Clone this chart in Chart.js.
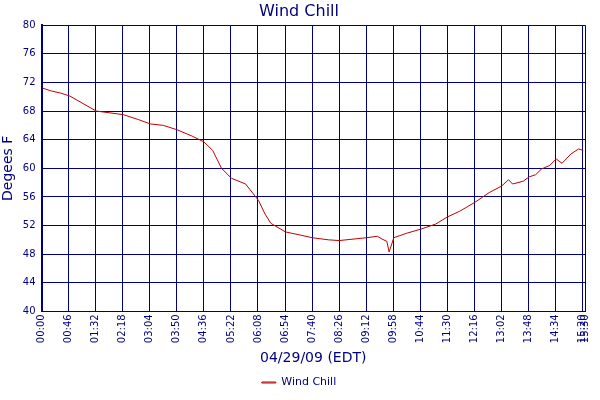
<!DOCTYPE html>
<html><head><meta charset="utf-8">
<script src="https://cdn.jsdelivr.net/npm/chart.js@4/dist/chart.umd.min.js"></script>
<style>html,body{margin:0;background:#fff}#wrap{width:600px;height:400px}</style>
</head><body><div id="wrap"><canvas id="c"></canvas></div>
<script>
const minutes = [2,17,33,48,93,139,165,185,207,230,256,276,291,306,323,347,369,380,390,415,438,460,488,506,553,571,579,587,591,599,620,645,670,690,711,736,761,782,794,801,819,829,840,850,864,875,885,900,913,921];
const windChill = [71.2,70.8,70.5,70.1,68.0,67.5,66.8,66.2,66.0,65.4,64.5,63.7,62.5,60.0,58.6,57.8,55.5,53.6,52.3,51.1,50.7,50.3,50.0,49.9,50.3,50.5,50.1,49.8,48.3,50.3,50.9,51.5,52.2,53.2,54.0,55.2,56.6,57.5,58.4,57.8,58.2,58.8,59.1,59.9,60.4,61.3,60.7,62.0,62.7,62.5];
const tickMinutes = [0,46,92,138,184,230,276,322,368,414,460,506,552,598,644,690,736,782,828,874,920,924];
const tickLabels = ["00:00","00:46","01:32","02:18","03:04","03:50","04:36","05:22","06:08","06:54","07:40","08:26","09:12","09:58","10:44","11:30","12:16","13:02","13:48","14:34","15:20","15:30"];
const navy = "#00007f";

new Chart(document.getElementById("c"), {
  type: "line",
  data: { datasets: [{ label: "Wind Chill", data: minutes.map((m, i) => ({ x: m, y: windChill[i] })), borderColor: "#c00000", borderWidth: 1, pointRadius: 0, tension: 0 }] },
  options: {
    responsive: true, maintainAspectRatio: false, animation: false,
    layout: { padding: { right: 2, top: 0, bottom: 2 } },
    plugins: {
      title: { display: true, text: "Wind Chill", color: navy, font: { family: "DejaVu Sans", size: 16, weight: "normal" }, padding: { top: 2, bottom: 4 } },
      legend: { position: "bottom", labels: { color: navy, boxWidth: 14, boxHeight: 1, font: { family: "DejaVu Sans", size: 11 }, padding: 4 } }
    },
    scales: {
      x: {
        type: "linear", min: 0, max: 924,
        afterBuildTicks: (s) => { s.ticks = tickMinutes.map(v => ({ value: v })); },
        ticks: { color: navy, font: { family: "DejaVu Sans", size: 10 }, maxRotation: 90, minRotation: 90, autoSkip: false,
          callback: (v) => tickLabels[tickMinutes.indexOf(v)] },
        grid: { color: navy, lineWidth: 1, drawTicks: false },
        border: { color: navy, width: 1 },
        title: { display: true, text: "04/29/09 (EDT)", color: navy, font: { family: "DejaVu Sans", size: 14 }, padding: { top: 4, bottom: 6 } }
      },
      y: {
        min: 40, max: 80,
        ticks: { stepSize: 4, color: navy, font: { family: "DejaVu Sans", size: 10 }, padding: 6 },
        grid: { color: navy, lineWidth: 1, drawTicks: false },
        border: { color: navy, width: 2 },
        title: { display: true, text: "Degees F", color: navy, font: { family: "DejaVu Sans", size: 14 }, padding: 0 }
      }
    }
  }
});
</script></body></html>
